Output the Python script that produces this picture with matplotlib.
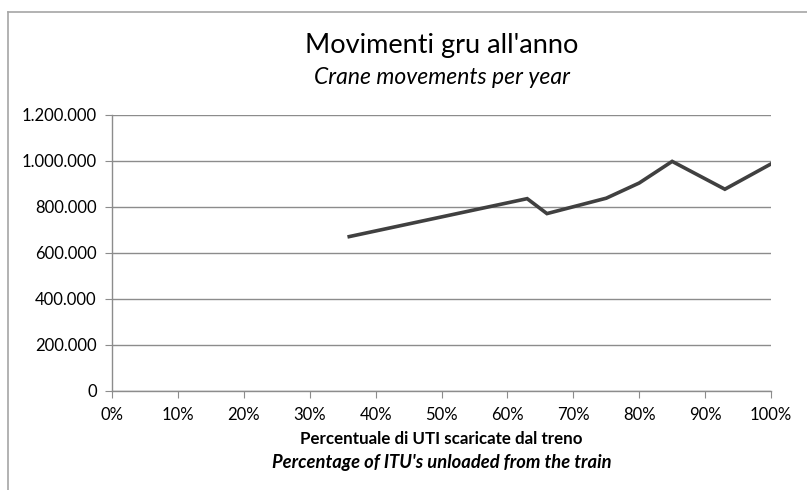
import matplotlib
matplotlib.use("Agg")
import matplotlib.pyplot as plt
from matplotlib.ticker import FuncFormatter
from matplotlib.lines import Line2D

pct_unloaded = [36, 63, 66, 75, 80, 85, 93, 100]
movements = [670000, 835000, 770000, 837000, 903000, 997000, 876000, 986000]
x_ticks = list(range(0, 101, 10))
y_ticks = list(range(0, 1200001, 200000))

plt.rcParams['font.family'] = ['Lato', 'DejaVu Sans']

fig = plt.figure(figsize=(8.07, 4.90), dpi=100)
ax = fig.add_axes([112/807, 1-390.7/490, (771-112)/807, (390.7-114.7)/490])

ax.plot(pct_unloaded, movements, color='#404040', lw=2.6, solid_joinstyle='miter', zorder=3)

ax.set_xlim(0, 100)
ax.set_ylim(0, 1200000)
ax.set_xticks(x_ticks)
ax.set_yticks(y_ticks)
ax.xaxis.set_major_formatter(FuncFormatter(lambda v, p: f"{int(v)}%"))
ax.yaxis.set_major_formatter(FuncFormatter(lambda v, p: f"{int(v):,}".replace(",", ".")))
ax.grid(axis='y', color='#8c8c8c', lw=1)
ax.set_axisbelow(True)
for s in ['top', 'right']:
    ax.spines[s].set_visible(False)
for s in ['left', 'bottom']:
    ax.spines[s].set_color('#8c8c8c')
    ax.spines[s].set_linewidth(1)
ax.tick_params(axis='both', colors='#8c8c8c', labelcolor='black', labelsize=12, length=5)
ax.tick_params(axis='y', pad=6)
ax.tick_params(axis='x', pad=7)

cx = (112 + 771) / 2 / 807
fig.text(cx, 1-46/490, "Movimenti gru all'anno", ha='center', va='center', fontsize=19.5)
fig.text(cx, 1-78/490, "Crane movements per year", ha='center', va='center', fontsize=16.5, style='italic')
fig.text(cx, 1-439/490, "Percentuale di UTI scaricate dal treno", ha='center', va='center', fontsize=12.2, weight='bold')
fig.text(cx, 1-462/490, "Percentage of ITU's unloaded from the train", ha='center', va='center', fontsize=13.2, weight='bold', style='italic')

# chart border
fig.add_artist(Line2D([8/807, 8/807], [0, 1-12/490], transform=fig.transFigure, color='#a6a6a6', lw=1.2))
fig.add_artist(Line2D([8/807, 1], [1-12/490, 1-12/490], transform=fig.transFigure, color='#a6a6a6', lw=1.2))

fig.savefig('out.png', dpi=100)
